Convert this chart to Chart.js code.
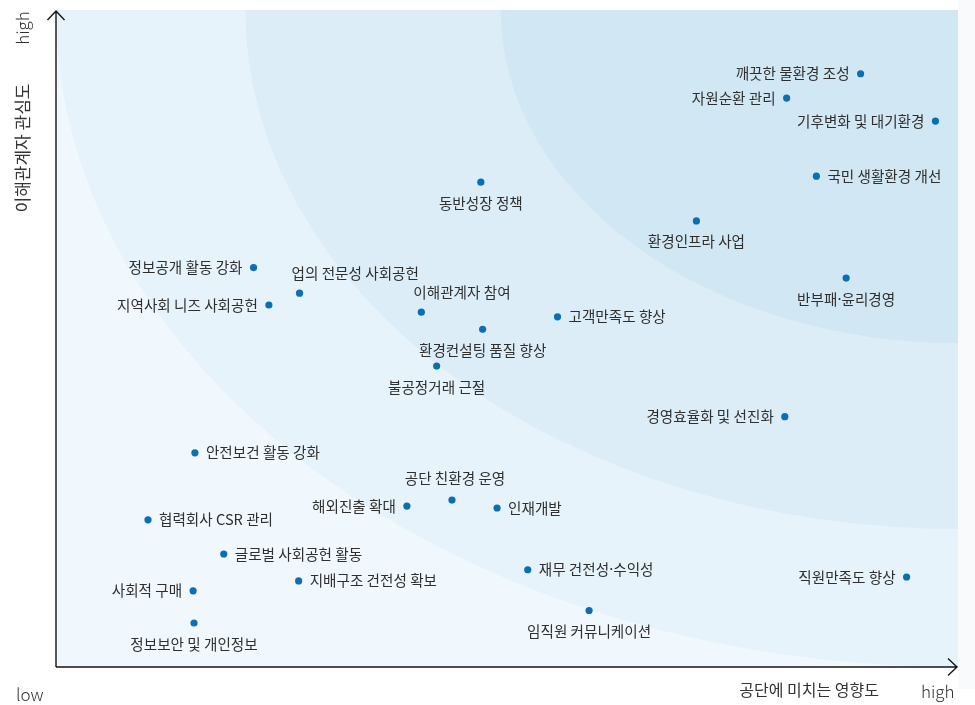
<!DOCTYPE html>
<html lang="ko">
<head>
<meta charset="utf-8">
<title>중요성 평가</title>
<script src="https://cdn.jsdelivr.net/npm/chart.js@4.4.1/dist/chart.umd.min.js"></script>
<style>
    html, body { margin: 0; padding: 0; background: #fff; }
    #wrap { position: relative; width: 975px; height: 705px; }
</style>
</head>
<body>
<div id="wrap"><canvas id="matrix"></canvas></div>
<script>
/**
 * Materiality matrix
 *
 * Impact on the agency (x) vs. stakeholder interest (y), 0-100
 */

const issues = [
    '깨끗한 물환경 조성', '자원순환 관리', '기후변화 및 대기환경', '국민 생활환경 개선',
    '동반성장 정책', '환경인프라 사업', '정보공개 활동 강화', '업의 전문성 사회공헌',
    '지역사회 니즈 사회공헌', '반부패·윤리경영', '이해관계자 참여', '고객만족도 향상',
    '환경컨설팅 품질 향상', '불공정거래 근절', '경영효율화 및 선진화', '안전보건 활동 강화',
    '공단 친환경 운영', '해외진출 확대', '인재개발', '협력회사 CSR 관리',
    '글로벌 사회공헌 활동', '재무 건전성·수익성', '직원만족도 향상', '지배구조 건전성 확보',
    '사회적 구매', '임직원 커뮤니케이션', '정보보안 및 개인정보'
];

const impact = [
    89.2, 81.0, 97.5, 84.3,
    47.1, 71.0, 21.9, 27.0,
    23.6, 87.6, 40.5, 55.6,
    47.3, 42.2, 80.8, 15.4,
    43.9, 38.9, 48.9, 10.2,
    18.6, 52.3, 94.3, 26.9,
    15.2, 59.1, 15.3
];

const interest = [
    90.3, 86.6, 83.1, 74.7,
    73.8, 67.9, 60.8, 56.9,
    55.1, 59.2, 54.0, 53.3,
    51.4, 45.8, 38.1, 32.6,
    25.4, 24.5, 24.2, 22.4,
    17.2, 14.8, 13.7, 13.1,
    11.6, 8.6, 6.7
];

// where each label sits relative to its dot
const labelSide = [
    'left', 'left', 'left', 'right',
    'below', 'below', 'left', 'aboveStart',
    'left', 'below', 'aboveStart', 'right',
    'below', 'below', 'left', 'right',
    'above', 'left', 'right', 'right',
    'right', 'right', 'left', 'right',
    'left', 'below', 'below'
];

const axisTitleX = '공단에 미치는 영향도';
const axisTitleY = '이해관계자 관심도';
const axisLow = 'low';
const axisHigh = 'high';

// band radii as a share of the plot size, outer to inner
const bandRadii = [1.0, 0.79, 0.507];
const bandColors = ['#e6f3fb', '#dcedf8', '#d1e7f4'];

(function() {
    'use strict';

    const KR = '"Noto Sans CJK KR", "Noto Sans", sans-serif';
    const DOT = '#0b6fb3';
    const INK = '#2f2f2f';

    /**
     * Pale background with concentric quarter ellipses from top-right
     */
    const bandsPlugin = {
        id: 'bands',
        beforeDatasetsDraw: function(chart) {
            const ctx = chart.ctx;
            const a = chart.chartArea;
            const cx = chart.scales.x.getPixelForValue(100);
            const cy = chart.scales.y.getPixelForValue(100);
            const w = a.right - a.left;
            const h = a.bottom - a.top;

            ctx.save();
            ctx.fillStyle = '#f8fafc';
            ctx.fillRect(a.right, 0, chart.width - a.right, a.bottom + 22);

            ctx.beginPath();
            ctx.rect(a.left, a.top, w, h);
            ctx.clip();
            ctx.fillStyle = '#f1f8fd';
            ctx.fillRect(a.left, a.top, w, h);

            bandRadii.forEach(function(r, i) {
                ctx.beginPath();
                ctx.moveTo(cx, cy);
                ctx.ellipse(cx, cy, w * r, h * r, 0, 0, Math.PI * 2);
                ctx.closePath();
                ctx.fillStyle = bandColors[i];
                ctx.fill();
            });
            ctx.restore();
        }
    };

    /**
     * Axis lines with open arrow heads and the axis words
     */
    const axesPlugin = {
        id: 'arrowAxes',
        afterDraw: function(chart) {
            const ctx = chart.ctx;
            const a = chart.chartArea;
            const x0 = a.left;
            const y0 = a.bottom;

            ctx.save();
            ctx.strokeStyle = '#151515';
            ctx.lineWidth = 1.4;
            ctx.lineJoin = 'miter';

            ctx.beginPath();
            ctx.moveTo(x0, y0);
            ctx.lineTo(x0, a.top + 1);
            ctx.moveTo(x0 - 8.5, a.top + 10);
            ctx.lineTo(x0, a.top + 1);
            ctx.lineTo(x0 + 8.5, a.top + 10);
            ctx.stroke();

            ctx.beginPath();
            ctx.moveTo(x0, y0);
            ctx.lineTo(a.right - 1, y0);
            ctx.moveTo(a.right - 10, y0 - 8.5);
            ctx.lineTo(a.right - 1, y0);
            ctx.lineTo(a.right - 10, y0 + 8.5);
            ctx.stroke();

            ctx.fillStyle = '#333';
            ctx.font = '300 17px ' + KR;
            ctx.textBaseline = 'middle';

            ctx.textAlign = 'left';
            ctx.fillText(axisLow, 16, 695);
            ctx.fillText(axisHigh, 921, 692);
            ctx.textAlign = 'right';
            ctx.font = '16px ' + KR;
            ctx.fillText(axisTitleX, 879, 690);

            ctx.save();
            ctx.translate(23, 28);
            ctx.rotate(-Math.PI / 2);
            ctx.textAlign = 'center';
            ctx.font = '300 17px ' + KR;
            ctx.fillText(axisHigh, 0, 0);
            ctx.restore();

            ctx.save();
            ctx.translate(23, 148);
            ctx.rotate(-Math.PI / 2);
            ctx.textAlign = 'center';
            ctx.font = '17px ' + KR;
            ctx.fillText(axisTitleY, 0, 0);
            ctx.restore();

            ctx.restore();
        }
    };

    /**
     * Issue names next to their dots
     */
    const labelsPlugin = {
        id: 'issueLabels',
        afterDatasetsDraw: function(chart) {
            const ctx = chart.ctx;
            const pts = chart.getDatasetMeta(0).data;

            ctx.save();
            ctx.fillStyle = INK;
            ctx.font = '14.6px ' + KR;
            ctx.textBaseline = 'middle';

            pts.forEach(function(p, i) {
                const side = labelSide[i];
                let tx = p.x;
                let ty = p.y;

                if (side === 'left') {
                    ctx.textAlign = 'right';
                    tx = p.x - 11;
                } else if (side === 'right') {
                    ctx.textAlign = 'left';
                    tx = p.x + 11;
                } else if (side === 'below') {
                    ctx.textAlign = 'center';
                    ty = p.y + 21;
                } else if (side === 'above') {
                    ctx.textAlign = 'center';
                    tx = p.x + 3;
                    ty = p.y - 22;
                } else {
                    ctx.textAlign = 'left';
                    tx = p.x - 8;
                    ty = p.y - 20;
                }
                ctx.fillText(issues[i], tx, ty);
            });
            ctx.restore();
        }
    };

    function build() {
        const points = issues.map(function(name, i) {
            return { x: impact[i], y: interest[i] };
        });

        return new Chart(document.getElementById('matrix'), {
            type: 'scatter',
            data: {
                datasets: [{
                    label: '중요 이슈',
                    data: points,
                    pointRadius: 3.6,
                    pointHoverRadius: 3.6,
                    pointBackgroundColor: DOT,
                    pointBorderWidth: 0
                }]
            },
            options: {
                responsive: true,
                maintainAspectRatio: false,
                animation: false,
                layout: {
                    padding: { left: 56, right: 17, top: 10, bottom: 38 }
                },
                scales: {
                    x: { type: 'linear', min: 0, max: 100, display: false },
                    y: { type: 'linear', min: 0, max: 100, display: false }
                },
                plugins: {
                    legend: { display: false },
                    tooltip: { enabled: false }
                }
            },
            plugins: [bandsPlugin, labelsPlugin, axesPlugin]
        });
    }

    if (document.fonts && document.fonts.load) {
        Promise.all([
            document.fonts.load('14px "Noto Sans CJK KR"'),
            document.fonts.load('300 16px "Noto Sans CJK KR"')
        ]).then(build, build);
    } else {
        build();
    }
})();
</script>
</body>
</html>
